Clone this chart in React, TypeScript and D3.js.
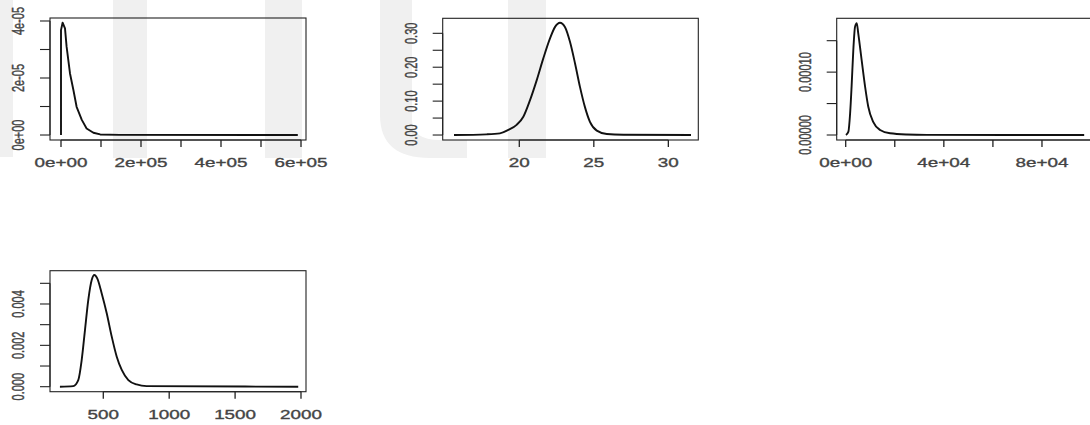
import React from "react";
import * as d3 from "d3";

// ---- data (density curves) ----
const panel1X = [0, 0, 4000, 10000, 14000, 22500, 31000, 39000, 52000, 64000, 81000, 98000, 146000, 592000];
const panel1Y = [0, 3.68e-5, 3.94e-5, 3.74e-5, 3.1e-5, 2.16e-5, 1.58e-5, 0.99e-5, 0.53e-5, 0.23e-5, 0.08e-5, 0.02e-5, 0.005e-5, 0];

const panel2X = [15.62, 17.81, 18.7, 19.26, 19.82, 20.27, 20.72, 21.17, 21.61, 22.06, 22.4, 22.73, 23.07, 23.4, 23.74, 24.07, 24.4, 24.74, 25.2, 25.87, 26.98, 31.52];
const panel2Y = [0, 0.002, 0.005, 0.015, 0.03, 0.054, 0.103, 0.162, 0.226, 0.285, 0.319, 0.331, 0.318, 0.275, 0.211, 0.142, 0.083, 0.039, 0.013, 0.003, 0.001, 0];

const panel3X = [100, 1100, 1800, 2400, 3100, 3800, 4500, 5100, 6500, 7900, 9200, 11200, 14000, 18100, 24900, 33000, 97200];
const panel3Y = [0, 0.53e-5, 3.45e-5, 7.7e-5, 13.5e-5, 17.2e-5, 17.8e-5, 16.2e-5, 11.9e-5, 7.7e-5, 4.5e-5, 2.1e-5, 0.8e-5, 0.27e-5, 0.08e-5, 0.02e-5, 0];

const panel4X = [171, 272, 310, 336, 361, 386, 412, 432, 454, 488, 526, 564, 602, 640, 690, 753, 829, 1979];
const panel4Y = [0, 0.03e-3, 0.32e-3, 1.29e-3, 2.74e-3, 4.19e-3, 5.16e-3, 5.4e-3, 5.24e-3, 4.51e-3, 3.55e-3, 2.42e-3, 1.45e-3, 0.81e-3, 0.32e-3, 0.11e-3, 0.03e-3, 0];

// ---- ticks and labels ----
const panel1XTicks = [0, 100000, 200000, 300000, 400000, 500000, 600000];
const panel1XLabels = ["0e+00", "", "2e+05", "", "4e+05", "", "6e+05"];
const panel1YTicks = [0, 1e-5, 2e-5, 3e-5, 4e-5];
const panel1YLabels = ["0e+00", "", "2e-05", "", "4e-05"];

const panel2XTicks = [20, 25, 30];
const panel2XLabels = ["20", "25", "30"];
const panel2YTicks = [0, 0.05, 0.1, 0.15, 0.2, 0.25, 0.3];
const panel2YLabels = ["0.00", "", "0.10", "", "0.20", "", "0.30"];

const panel3XTicks = [0, 20000, 40000, 60000, 80000, 100000];
const panel3XLabels = ["0e+00", "", "4e+04", "", "8e+04", ""];
const panel3YTicks = [0, 5e-5, 1e-4, 1.5e-4];
const panel3YLabels = ["0.00000", "", "0.00010", ""];

const panel4XTicks = [500, 1000, 1500, 2000];
const panel4XLabels = ["500", "1000", "1500", "2000"];
const panel4YTicks = [0, 0.001, 0.002, 0.003, 0.004, 0.005];
const panel4YLabels = ["0.000", "", "0.002", "", "0.004", ""];

type Panel = {
  xs: number[]; ys: number[];
  xDomain: [number, number]; yDomain: [number, number];
  box: [number, number, number, number];
  xTicks: number[]; xLabels: string[];
  yTicks: number[]; yLabels: string[];
  curve: any;
};

const panels: Panel[] = [
  { xs: panel1X, ys: panel1Y, xDomain: [-27500, 612500], yDomain: [-0.175e-5, 4.105e-5], box: [50, 18, 306, 140],
    xTicks: panel1XTicks, xLabels: panel1XLabels, yTicks: panel1YTicks, yLabels: panel1YLabels, curve: d3.curveLinear },
  { xs: panel2X, ys: panel2Y, xDomain: [14.86, 32.01], yDomain: [-0.0147, 0.3443], box: [442.7, 18.3, 698.3, 140],
    xTicks: panel2XTicks, xLabels: panel2XLabels, yTicks: panel2YTicks, yLabels: panel2YLabels, curve: d3.curveMonotoneX },
  { xs: panel3X, ys: panel3Y, xDomain: [-3670, 101000], yDomain: [-0.795e-5, 18.56e-5], box: [836.7, 18.3, 1093.5, 140],
    xTicks: panel3XTicks, xLabels: panel3XLabels, yTicks: panel3YTicks, yLabels: panel3YLabels, curve: d3.curveMonotoneX },
  { xs: panel4X, ys: panel4Y, xDomain: [95.6, 2038], yDomain: [-0.000242, 0.00561], box: [50, 270.7, 306, 391.7],
    xTicks: panel4XTicks, xLabels: panel4XLabels, yTicks: panel4YTicks, yLabels: panel4YLabels, curve: d3.curveMonotoneX },
];

const FONT = "'Liberation Sans', Arial, sans-serif";
const STRETCH = 1.45;
const WM = "#f0f0f0";

function PanelView({ p }: { p: Panel }) {
  const [l, t, r, b] = p.box;
  const x = d3.scaleLinear().domain(p.xDomain).range([l, r]);
  const y = d3.scaleLinear().domain(p.yDomain).range([b, t]);
  const line = d3.line<number>().x((_, i) => x(p.xs[i])).y((d) => y(d)).curve(p.curve);
  const path = line(p.ys) || "";
  const x0 = x(p.xTicks[0]);
  const x1 = x(p.xTicks[p.xTicks.length - 1]);
  const y0 = y(p.yTicks[0]);
  const y1 = y(p.yTicks[p.yTicks.length - 1]);
  return (
    <g>
      <path d={path} fill="none" stroke="#111" strokeWidth={1.9} strokeLinejoin="round" />
      <rect x={l} y={t} width={r - l} height={b - t} fill="none" stroke="#222" strokeWidth={1.1} />
      {/* x axis */}
      <line x1={x0} x2={x1} y1={b} y2={b} stroke="#222" strokeWidth={1.1} />
      {p.xTicks.map((v, i) => (
        <g key={"xt" + i}>
          <line x1={x(v)} x2={x(v)} y1={b} y2={b + 7} stroke="#222" strokeWidth={1.3} />
          {p.xLabels[i] && (
            <text transform={`translate(${x(v)},${b + 22}) scale(${STRETCH},1)`} textAnchor="middle"
              dominantBaseline="central" fontFamily={FONT} fontSize={13} fill="#444"
              stroke="#444" strokeWidth={0.35}>{p.xLabels[i]}</text>
          )}
        </g>
      ))}
      {/* y axis */}
      <line x1={l} x2={l} y1={y0} y2={y1} stroke="#222" strokeWidth={1.1} />
      {p.yTicks.map((v, i) => (
        <g key={"yt" + i}>
          <line x1={l - 10} x2={l} y1={y(v)} y2={y(v)} stroke="#222" strokeWidth={1.1} />
          {p.yLabels[i] && (
            <text transform={`translate(${l - 31},${y(v)}) scale(${STRETCH},1) rotate(-90)`} textAnchor="middle"
              dominantBaseline="central" fontFamily={FONT} fontSize={11} fill="#444"
              stroke="#444" strokeWidth={0.3}>{p.yLabels[i]}</text>
          )}
        </g>
      ))}
    </g>
  );
}

export default function App() {
  return (
    <svg width={1090} height={425} style={{ position: "fixed", left: 0, top: 0, background: "#fff" }}>
      <rect x={0} y={0} width={1090} height={425} fill="#fff" />
      {/* faint background watermark */}
      <g fill={WM}>
        <rect x={0} y={0} width={13} height={157} />
        <rect x={113} y={0} width={34} height={158} />
        <rect x={265} y={0} width={37} height={158} />
        <path d="M380,0 L412,0 L412,120 Q412,140 440,140 L467,140 L467,158 L430,158 Q380,158 380,115 Z" />
        <rect x={508} y={0} width={38} height={158} />
      </g>
      {panels.map((p, i) => (
        <PanelView key={i} p={p} />
      ))}
    </svg>
  );
}
